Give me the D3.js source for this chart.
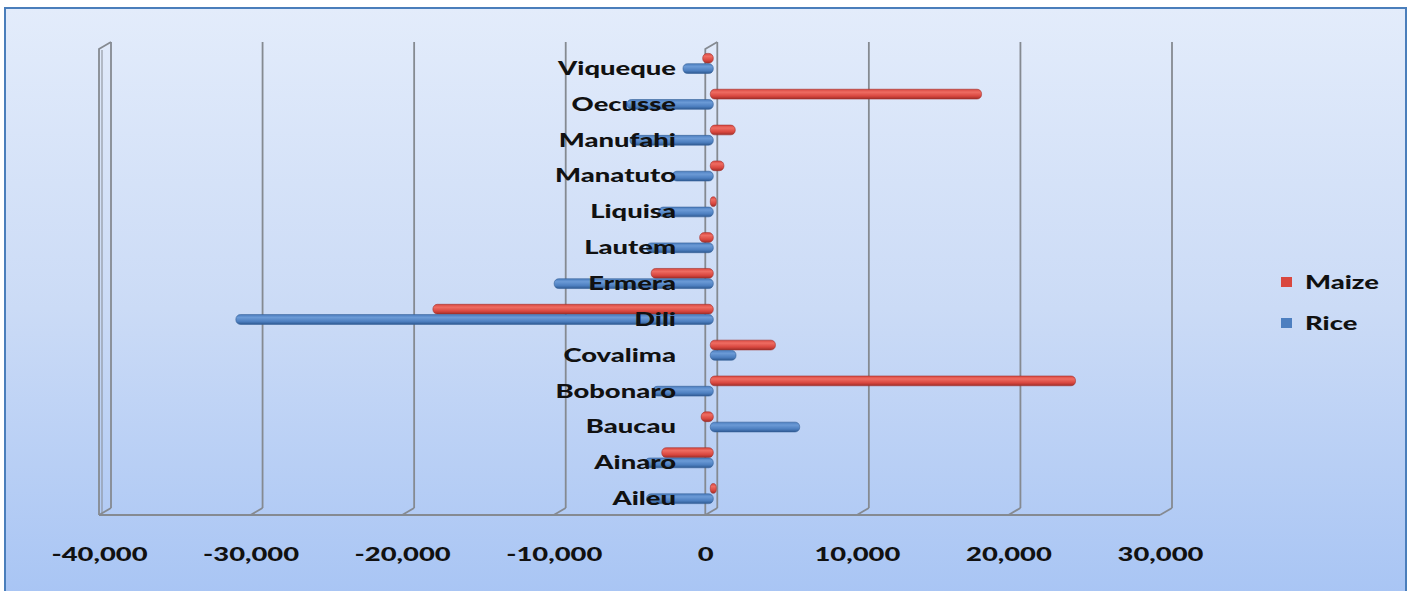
<!DOCTYPE html>
<html>
<head>
<meta charset="utf-8">
<script src="https://cdn.jsdelivr.net/npm/d3@7"></script>
<style>
  html, body { margin: 0; padding: 0; background: #ffffff; }
  svg { display: block; }
  text { font-family: Lato, "Open Sans", sans-serif; font-weight: 900; fill: #111111; }
</style>
</head>
<body>
<svg id="chart" width="1414" height="591"></svg>
<script>
// Districts, bottom to top as drawn
const categories = ["Aileu", "Ainaro", "Baucau", "Bobonaro", "Covalima", "Dili", "Ermera",
                    "Lautem", "Liquisa", "Manatuto", "Manufahi", "Oecusse", "Viqueque"];
// Surplus / deficit per district
const maize = [200, -3200, -600, 23900, 4100, -18300, -3900, -700, 200, 700, 1450, 17700, -500];
const rice  = [-4200, -4300, 5700, -3800, 1500, -31300, -10300, -4200, -3400, -2500, -5300, -5500, -1800];
const seriesNames = ["Maize", "Rice"];
const tickValues = [-40000, -30000, -20000, -10000, 0, 10000, 20000, 30000];

const svg = d3.select("#chart");

// ---- background frame ----
const defs = svg.append("defs");
const bg = defs.append("linearGradient").attr("id", "bgGrad")
  .attr("x1", 0).attr("y1", 0).attr("x2", 0).attr("y2", 1);
bg.append("stop").attr("offset", "0%").attr("stop-color", "#e3ecfb");
bg.append("stop").attr("offset", "50%").attr("stop-color", "#cbdbf6");
bg.append("stop").attr("offset", "100%").attr("stop-color", "#a7c4f4");

svg.append("rect").attr("x", 5).attr("y", 8).attr("width", 1401).attr("height", 600)
  .attr("fill", "url(#bgGrad)").attr("stroke", "#4a7ebb").attr("stroke-width", 2);

// ---- scales: front, back and mid planes of the 3D box ----
const depthDX = 12, depthDY = -7;
const xFront = d3.scaleLinear().domain([-40000, 30000]).range([99, 1160]);
const xBack = v => xFront(v) + depthDX;
const xMid = v => xFront(v) + depthDX / 2;
const frontTop = 49, frontBottom = 515;

const y = d3.scaleBand()
  .domain(categories.slice().reverse())
  .range([frontTop + depthDY / 2, frontBottom + depthDY / 2])
  .paddingInner(0.44).paddingOuter(0.22);
const ySub = d3.scaleBand().domain(seriesNames).range([0, y.bandwidth()]).paddingInner(0.05);

const gridColor = "#858a91";
const grid = svg.append("g").attr("stroke", gridColor).attr("stroke-width", 1.8).attr("fill", "none");

// back-wall gridlines with floor connectors
tickValues.forEach(v => {
  grid.append("line")
    .attr("x1", xBack(v)).attr("x2", xBack(v))
    .attr("y1", frontTop + depthDY).attr("y2", frontBottom + depthDY);
  grid.append("line")
    .attr("x1", xBack(v)).attr("y1", frontBottom + depthDY)
    .attr("x2", xFront(v)).attr("y2", frontBottom);
});
// floor front edge
grid.append("line")
  .attr("x1", xFront(-40000)).attr("x2", xFront(30000))
  .attr("y1", frontBottom).attr("y2", frontBottom);
// left wall edge
grid.append("path")
  .attr("d", `M${xFront(-40000)},${frontBottom} L${xFront(-40000)},${frontTop} L${xBack(-40000)},${frontTop + depthDY}`);
grid.append("line")
  .attr("x1", xFront(-40000) + 3).attr("x2", xFront(-40000) + 3)
  .attr("y1", frontTop + 1).attr("y2", frontBottom - 2).attr("stroke-width", 1);
// zero axis edge on the front plane
grid.append("path")
  .attr("d", `M${xFront(0)},${frontBottom} L${xFront(0)},${frontTop} L${xBack(0)},${frontTop + depthDY}`);

// ---- bars ----
function barGradient(id, light, mid, dark) {
  const g = defs.append("linearGradient").attr("id", id)
    .attr("x1", 0).attr("y1", 0).attr("x2", 0).attr("y2", 1);
  g.append("stop").attr("offset", "0%").attr("stop-color", mid);
  g.append("stop").attr("offset", "30%").attr("stop-color", light);
  g.append("stop").attr("offset", "70%").attr("stop-color", mid);
  g.append("stop").attr("offset", "100%").attr("stop-color", dark);
}
barGradient("gMaize", "#ee6c62", "#d9473f", "#9e2e29");
barGradient("gRice", "#6b9ad6", "#4d7fc0", "#2f5a92");
const fills = { Maize: "url(#gMaize)", Rice: "url(#gRice)" };
const strokes = { Maize: "#a3302b", Rice: "#345f97" };

const rows = categories.map((c, i) => ({ cat: c, Maize: maize[i], Rice: rice[i] }));
const barG = svg.append("g");
seriesNames.forEach(s => {
  barG.selectAll(null).data(rows).enter().append("rect")
    .attr("x", d => Math.min(xMid(0), xMid(d[s])) - 1)
    .attr("width", d => Math.abs(xMid(d[s]) - xMid(0)) + 3)
    .attr("y", d => y(d.cat) + ySub(s))
    .attr("height", ySub.bandwidth())
    .attr("rx", 4.5).attr("ry", 4.5)
    .attr("fill", fills[s])
    .attr("stroke", strokes[s]).attr("stroke-width", 0.6);
});

// ---- text width calibration (labels are drawn wide) ----
const probe = svg.append("text").attr("font-size", 19.5).text("Viqueque");
const stretch = 118 / probe.node().getComputedTextLength();
probe.remove();

// ---- category axis ----
const catAxis = svg.append("g").attr("transform", "translate(676,0)")
  .call(d3.axisLeft(y).tickSize(0).tickPadding(0));
catAxis.select(".domain").remove();
catAxis.selectAll("text")
  .attr("x", 0).attr("dy", null)
  .attr("y", 11.5)
  .attr("font-size", 19.5).attr("font-family", null)
  .attr("text-anchor", "end")
  .attr("transform", `scale(${stretch},1)`);

// ---- value axis ----
const fmt = d3.format(",");
const valAxis = svg.append("g").attr("transform", "translate(0,546)")
  .call(d3.axisBottom(xFront).tickValues(tickValues)
    .tickFormat(d => fmt(d).replace("\u2212", "-"))
    .tickSize(0).tickPadding(0));
valAxis.select(".domain").remove();
valAxis.selectAll("text")
  .attr("y", 15).attr("dy", null)
  .attr("font-size", 19.5).attr("font-family", null)
  .attr("transform", `scale(${stretch},1)`);

// ---- legend ----
const legend = svg.append("g");
const legendColors = { Maize: "#d9473f", Rice: "#4d7fc0" };
seriesNames.forEach((s, i) => {
  const ly = 277 + i * 41;
  legend.append("rect").attr("x", 1281).attr("y", ly).attr("width", 11).attr("height", 10)
    .attr("fill", legendColors[s]);
  legend.append("text")
    .attr("transform", `translate(1305,${ly + 12}) scale(${stretch},1)`)
    .attr("font-size", 19.5).text(s);
});
</script>
</body>
</html>
